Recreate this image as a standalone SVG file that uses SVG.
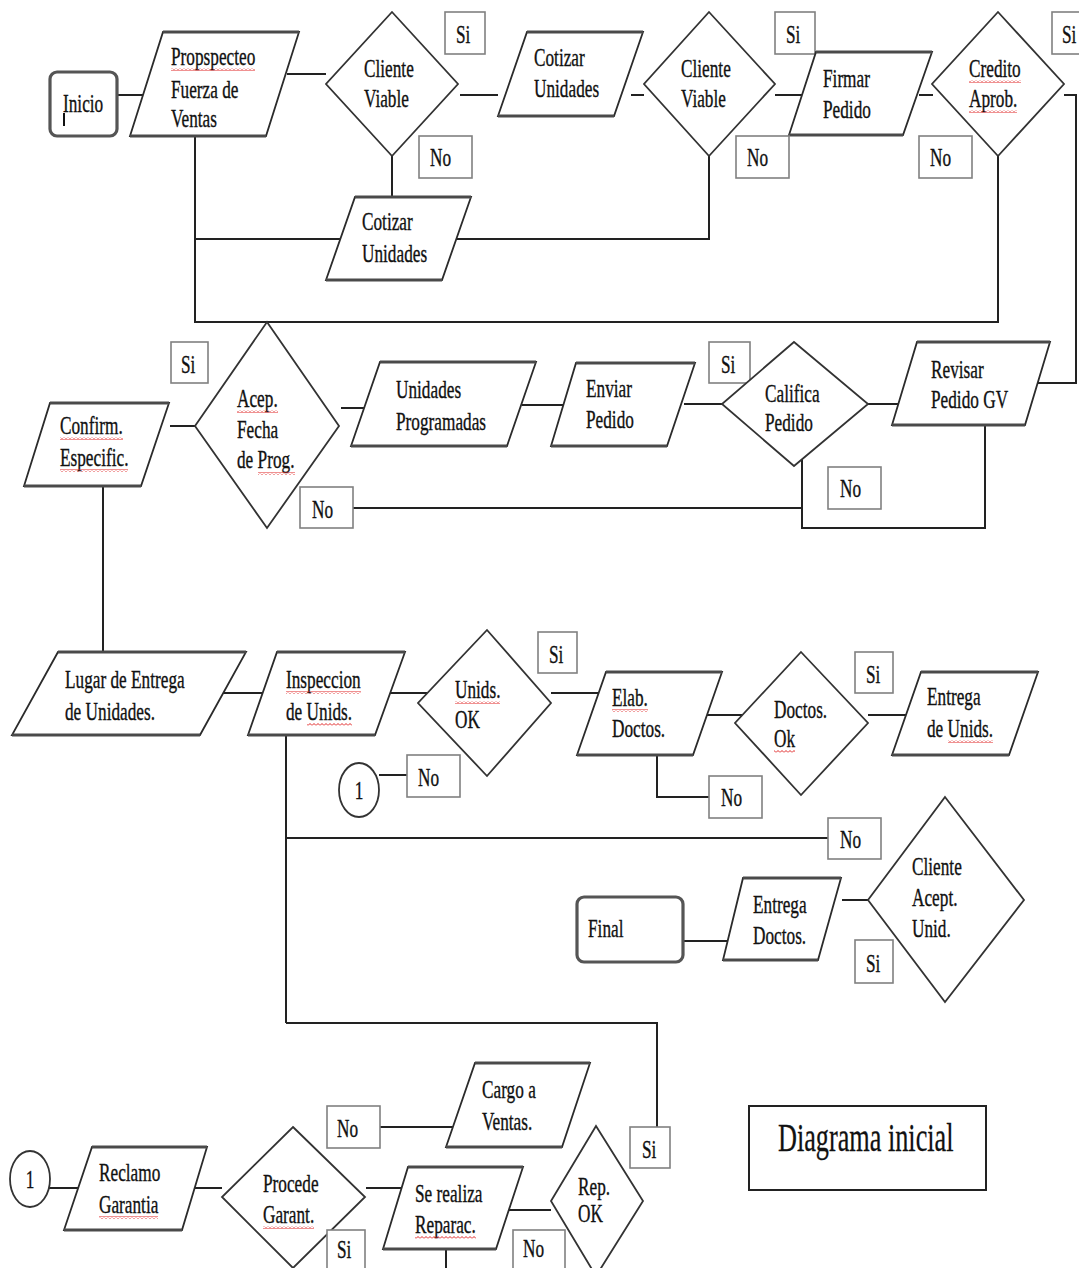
<svg xmlns="http://www.w3.org/2000/svg" width="1079" height="1268" viewBox="0 0 1079 1268">
<defs>
<pattern id="wavy" width="4" height="3" patternUnits="userSpaceOnUse"><path d="M0 2.5 L2 0.5 L4 2.5" fill="none" stroke="#e02424" stroke-width="1"/></pattern>
<style>
.t{font-family:"Liberation Serif","Times New Roman",serif;font-size:25px;fill:#111;stroke:#111;stroke-width:0.35}
.title{font-family:"Liberation Serif","Times New Roman",serif;font-size:41px;fill:#111;stroke:#111;stroke-width:0.3}
.para{fill:#fff;stroke:#2b2b2b;stroke-width:1.8}
.pe{fill:none;stroke:#4a4a4a;stroke-width:3.2}
.dia{fill:#fff;stroke:#333;stroke-width:1.8}
.lab{fill:#fff;stroke:#808080;stroke-width:1.6}
.term{fill:#fff;stroke:#555;stroke-width:3.2}
.circ{fill:#fff;stroke:#333;stroke-width:1.8}
.c{fill:none;stroke:#222;stroke-width:2}
.w{fill:url(#wavy)}
</style>
</defs>
<rect width="1079" height="1268" fill="#fff"/>

<g id="connectors">
<line class="c" x1="117" y1="95" x2="143" y2="95"/>
<line class="c" x1="287" y1="74" x2="326" y2="74"/>
<line class="c" x1="460" y1="95" x2="498" y2="95"/>
<line class="c" x1="631" y1="95" x2="644" y2="95"/>
<line class="c" x1="775" y1="95" x2="803" y2="95"/>
<line class="c" x1="919" y1="95" x2="933" y2="95"/>
<polyline class="c" points="1064,95 1076,95 1076,383 1038,383"/>
<line class="c" x1="392" y1="156" x2="392" y2="197"/>
<polyline class="c" points="195,136 195,322 998,322 998,156"/>
<line class="c" x1="195" y1="239" x2="341" y2="239"/>
<polyline class="c" points="456,239 709,239 709,156"/>
<line class="c" x1="170" y1="426" x2="195" y2="426"/>
<line class="c" x1="341" y1="408" x2="364" y2="408"/>
<line class="c" x1="522" y1="405" x2="564" y2="405"/>
<line class="c" x1="684" y1="404" x2="722" y2="404"/>
<line class="c" x1="868" y1="404" x2="898" y2="404"/>
<polyline class="c" points="985,425 985,528 802,528 802,458"/>
<line class="c" x1="353" y1="508" x2="802" y2="508"/>
<line class="c" x1="103" y1="486" x2="103" y2="652"/>
<line class="c" x1="223" y1="693" x2="263" y2="693"/>
<line class="c" x1="390" y1="693" x2="428" y2="693"/>
<line class="c" x1="551" y1="693" x2="600" y2="693"/>
<line class="c" x1="707" y1="715" x2="742" y2="715"/>
<line class="c" x1="868" y1="715" x2="906" y2="715"/>
<polyline class="c" points="657,755 657,797 709,797"/>
<line class="c" x1="379" y1="775" x2="407" y2="775"/>
<line class="c" x1="286" y1="735" x2="286" y2="1023"/>
<line class="c" x1="286" y1="838" x2="828" y2="838"/>
<polyline class="c" points="286,1023 657,1023 657,1127"/>
<line class="c" x1="842" y1="900" x2="868" y2="900"/>
<line class="c" x1="683" y1="941" x2="727" y2="941"/>
<line class="c" x1="49" y1="1188" x2="78" y2="1188"/>
<line class="c" x1="194" y1="1188" x2="222" y2="1188"/>
<line class="c" x1="366" y1="1188" x2="402" y2="1188"/>
<line class="c" x1="380" y1="1127" x2="453" y2="1127"/>
<line class="c" x1="509" y1="1210" x2="551" y2="1210"/>
<line class="c" x1="446" y1="1249" x2="446" y2="1268"/>
</g>

<g id="inicio">
<rect class="term" x="50" y="72" width="67" height="64" rx="7"/>
<text class="t" transform="matrix(.69 0 0 1 63 0)"><tspan x="0" y="112">Inicio</tspan></text>
<line x1="64" y1="113" x2="64" y2="126" stroke="#111" stroke-width="2"/>
</g>

<g id="propspecteo">
<polygon class="para" points="163,32 299,32 266,136 130,136"/>
<path class="pe" d="M163 32H299M130 136H266"/>
<text class="t" transform="matrix(.69 0 0 1 171 0)"><tspan x="0" y="65">Propspecteo</tspan><tspan x="0" y="98">Fuerza de</tspan><tspan x="0" y="127">Ventas</tspan></text>
<rect class="w" x="171" y="68" width="84" height="3"/>
</g>

<g id="cliente-viable-1">
<polygon class="dia" points="392,12 458,84 392,156 326,84"/>
<text class="t" transform="matrix(.69 0 0 1 364 0)"><tspan x="0" y="77">Cliente</tspan><tspan x="0" y="107">Viable</tspan></text>
</g>
<g id="si-1"><rect class="lab" x="445" y="12" width="40" height="42"/><text class="t" transform="matrix(.69 0 0 1 456 0)"><tspan x="0" y="43">Si</tspan></text></g>
<g id="no-1"><rect class="lab" x="419" y="136" width="53" height="42"/><text class="t" transform="matrix(.69 0 0 1 430 0)"><tspan x="0" y="166">No</tspan></text></g>

<g id="cotizar-1">
<polygon class="para" points="527,32 643,32 614,116 498,116"/>
<path class="pe" d="M527 32H643M498 116H614"/>
<text class="t" transform="matrix(.69 0 0 1 534 0)"><tspan x="0" y="66">Cotizar</tspan><tspan x="0" y="97">Unidades</tspan></text>
</g>

<g id="cotizar-2">
<polygon class="para" points="355,197 471,197 442,280 326,280"/>
<path class="pe" d="M355 197H471M326 280H442"/>
<text class="t" transform="matrix(.69 0 0 1 362 0)"><tspan x="0" y="230">Cotizar</tspan><tspan x="0" y="262">Unidades</tspan></text>
</g>

<g id="cliente-viable-2">
<polygon class="dia" points="709,12 775,84 709,156 644,84"/>
<text class="t" transform="matrix(.69 0 0 1 681 0)"><tspan x="0" y="77">Cliente</tspan><tspan x="0" y="107">Viable</tspan></text>
</g>
<g id="si-2"><rect class="lab" x="775" y="12" width="40" height="42"/><text class="t" transform="matrix(.69 0 0 1 786 0)"><tspan x="0" y="43">Si</tspan></text></g>

<g id="firmar">
<polygon class="para" points="816,52 932,52 903,135 789,135"/>
<path class="pe" d="M816 52H932M789 135H903"/>
<text class="t" transform="matrix(.69 0 0 1 823 0)"><tspan x="0" y="87">Firmar</tspan><tspan x="0" y="118">Pedido</tspan></text>
</g>
<g id="no-2"><rect class="lab" x="736" y="136" width="53" height="42"/><text class="t" transform="matrix(.69 0 0 1 747 0)"><tspan x="0" y="166">No</tspan></text></g>

<g id="credito">
<polygon class="dia" points="998,12 1064,84 998,156 932,84"/>
<text class="t" transform="matrix(.69 0 0 1 969 0)"><tspan x="0" y="77">Credito</tspan><tspan x="0" y="107">Aprob.</tspan></text>
<rect class="w" x="969" y="80" width="52" height="3"/>
<rect class="w" x="969" y="110" width="48" height="3"/>
</g>
<g id="no-3"><rect class="lab" x="919" y="136" width="53" height="42"/><text class="t" transform="matrix(.69 0 0 1 930 0)"><tspan x="0" y="166">No</tspan></text></g>
<g id="si-3"><rect class="lab" x="1052" y="12" width="40" height="42"/><text class="t" transform="matrix(.69 0 0 1 1062 0)"><tspan x="0" y="43">Si</tspan></text></g>

<g id="acep">
<polygon class="dia" points="267,322 339,426 267,528 195,426"/>
<text class="t" transform="matrix(.69 0 0 1 237 0)"><tspan x="0" y="407">Acep.</tspan><tspan x="0" y="438">Fecha</tspan><tspan x="0" y="468">de Prog.</tspan></text>
<rect class="w" x="237" y="410" width="41" height="3"/>
<rect class="w" x="258" y="472" width="37" height="3"/>
</g>
<g id="si-4"><rect class="lab" x="171" y="342" width="37" height="41"/><text class="t" transform="matrix(.69 0 0 1 181 0)"><tspan x="0" y="373">Si</tspan></text></g>

<g id="confirm">
<polygon class="para" points="50,403 169,403 141,486 24,486"/>
<path class="pe" d="M50 403H169M24 486H141"/>
<text class="t" transform="matrix(.69 0 0 1 60 0)"><tspan x="0" y="434">Confirm.</tspan><tspan x="0" y="466">Especific.</tspan></text>
<rect class="w" x="60" y="437" width="63" height="3"/>
<rect class="w" x="60" y="469" width="68" height="3"/>
</g>

<g id="unidades-programadas">
<polygon class="para" points="380,362 536,362 507,446 351,446"/>
<path class="pe" d="M380 362H536M351 446H507"/>
<text class="t" transform="matrix(.69 0 0 1 396 0)"><tspan x="0" y="398">Unidades</tspan><tspan x="0" y="430">Programadas</tspan></text>
</g>

<g id="enviar">
<polygon class="para" points="576,363 695,363 667,446 551,446"/>
<path class="pe" d="M576 363H695M551 446H667"/>
<text class="t" transform="matrix(.69 0 0 1 586 0)"><tspan x="0" y="397">Enviar</tspan><tspan x="0" y="428">Pedido</tspan></text>
</g>
<g id="si-5"><rect class="lab" x="709" y="342" width="41" height="41"/><text class="t" transform="matrix(.69 0 0 1 721 0)"><tspan x="0" y="373">Si</tspan></text></g>

<g id="califica">
<polygon class="dia" points="794,342 868,404 794,466 722,404"/>
<text class="t" transform="matrix(.69 0 0 1 765 0)"><tspan x="0" y="402">Califica</tspan><tspan x="0" y="431">Pedido</tspan></text>
</g>

<g id="revisar">
<polygon class="para" points="917,342 1050,342 1025,425 892,425"/>
<path class="pe" d="M917 342H1050M892 425H1025"/>
<text class="t" transform="matrix(.69 0 0 1 931 0)"><tspan x="0" y="378">Revisar</tspan><tspan x="0" y="408">Pedido GV</tspan></text>
</g>
<g id="no-4"><rect class="lab" x="828" y="467" width="53" height="42"/><text class="t" transform="matrix(.69 0 0 1 840 0)"><tspan x="0" y="497">No</tspan></text></g>
<g id="no-5"><rect class="lab" x="300" y="487" width="53" height="41"/><text class="t" transform="matrix(.69 0 0 1 312 0)"><tspan x="0" y="518">No</tspan></text></g>

<g id="lugar">
<polygon class="para" points="58,652 246,652 200,735 12,735"/>
<path class="pe" d="M58 652H246M12 735H200"/>
<text class="t" transform="matrix(.69 0 0 1 65 0)"><tspan x="0" y="688">Lugar de Entrega</tspan><tspan x="0" y="720">de Unidades.</tspan></text>
</g>

<g id="inspeccion">
<polygon class="para" points="277,652 405,652 375,735 248,735"/>
<path class="pe" d="M277 652H405M248 735H375"/>
<text class="t" transform="matrix(.69 0 0 1 286 0)"><tspan x="0" y="688">Inspeccion</tspan><tspan x="0" y="720">de Unids.</tspan></text>
<rect class="w" x="286" y="691" width="75" height="3"/>
<rect class="w" x="307" y="723" width="45" height="3"/>
</g>

<g id="unids-ok">
<polygon class="dia" points="487,630 551,703 487,776 418,703"/>
<text class="t" transform="matrix(.69 0 0 1 455 0)"><tspan x="0" y="698">Unids.</tspan><tspan x="0" y="728">OK</tspan></text>
<rect class="w" x="455" y="701" width="45" height="3"/>
</g>
<g id="si-6"><rect class="lab" x="538" y="632" width="39" height="41"/><text class="t" transform="matrix(.69 0 0 1 549 0)"><tspan x="0" y="663">Si</tspan></text></g>

<g id="conector-1a">
<ellipse class="circ" cx="359" cy="790" rx="20" ry="27"/>
<text class="t" text-anchor="middle" transform="matrix(.69 0 0 1 359 0)"><tspan x="0" y="799">1</tspan></text>
</g>
<g id="no-6"><rect class="lab" x="407" y="755" width="53" height="42"/><text class="t" transform="matrix(.69 0 0 1 418 0)"><tspan x="0" y="786">No</tspan></text></g>

<g id="elab">
<polygon class="para" points="606,672 722,672 693,755 577,755"/>
<path class="pe" d="M606 672H722M577 755H693"/>
<text class="t" transform="matrix(.69 0 0 1 612 0)"><tspan x="0" y="706">Elab.</tspan><tspan x="0" y="737">Doctos.</tspan></text>
<rect class="w" x="612" y="709" width="36" height="3"/>
</g>
<g id="no-7"><rect class="lab" x="709" y="776" width="53" height="42"/><text class="t" transform="matrix(.69 0 0 1 721 0)"><tspan x="0" y="806">No</tspan></text></g>

<g id="doctos-ok">
<polygon class="dia" points="801,652 868,723 801,795 735,723"/>
<text class="t" transform="matrix(.69 0 0 1 774 0)"><tspan x="0" y="718">Doctos.</tspan><tspan x="0" y="747">Ok</tspan></text>
<rect class="w" x="774" y="750" width="21" height="3"/>
</g>
<g id="si-7"><rect class="lab" x="855" y="652" width="38" height="41"/><text class="t" transform="matrix(.69 0 0 1 866 0)"><tspan x="0" y="683">Si</tspan></text></g>

<g id="entrega-unids">
<polygon class="para" points="921,672 1038,672 1009,755 892,755"/>
<path class="pe" d="M921 672H1038M892 755H1009"/>
<text class="t" transform="matrix(.69 0 0 1 927 0)"><tspan x="0" y="705">Entrega</tspan><tspan x="0" y="737">de Unids.</tspan></text>
<rect class="w" x="948" y="740" width="45" height="3"/>
</g>

<g id="no-8"><rect class="lab" x="828" y="818" width="53" height="41"/><text class="t" transform="matrix(.69 0 0 1 840 0)"><tspan x="0" y="848">No</tspan></text></g>

<g id="cliente-acept">
<polygon class="dia" points="945,797 1024,900 945,1002 868,900"/>
<text class="t" transform="matrix(.69 0 0 1 912 0)"><tspan x="0" y="875">Cliente</tspan><tspan x="0" y="906">Acept.</tspan><tspan x="0" y="937">Unid.</tspan></text>
</g>

<g id="entrega-doctos">
<polygon class="para" points="743,878 841,878 818,960 723,960"/>
<path class="pe" d="M743 878H841M723 960H818"/>
<text class="t" transform="matrix(.69 0 0 1 753 0)"><tspan x="0" y="913">Entrega</tspan><tspan x="0" y="944">Doctos.</tspan></text>
</g>
<g id="si-8"><rect class="lab" x="855" y="940" width="38" height="43"/><text class="t" transform="matrix(.69 0 0 1 866 0)"><tspan x="0" y="972">Si</tspan></text></g>

<g id="final">
<rect class="term" x="577" y="897" width="106" height="65" rx="7"/>
<text class="t" transform="matrix(.69 0 0 1 588 0)"><tspan x="0" y="937">Final</tspan></text>
</g>

<g id="conector-1b">
<ellipse class="circ" cx="30" cy="1179" rx="20" ry="28"/>
<text class="t" text-anchor="middle" transform="matrix(.69 0 0 1 30 0)"><tspan x="0" y="1188">1</tspan></text>
</g>

<g id="reclamo">
<polygon class="para" points="92,1147 207,1147 182,1230 64,1230"/>
<path class="pe" d="M92 1147H207M64 1230H182"/>
<text class="t" transform="matrix(.69 0 0 1 99 0)"><tspan x="0" y="1181">Reclamo</tspan><tspan x="0" y="1213">Garantia</tspan></text>
<rect class="w" x="99" y="1216" width="59" height="3"/>
</g>

<g id="procede">
<polygon class="dia" points="293,1127 365,1197 293,1268 222,1197"/>
<text class="t" transform="matrix(.69 0 0 1 263 0)"><tspan x="0" y="1192">Procede</tspan><tspan x="0" y="1223">Garant.</tspan></text>
<rect class="w" x="263" y="1226" width="51" height="3"/>
</g>
<g id="no-9"><rect class="lab" x="327" y="1106" width="53" height="42"/><text class="t" transform="matrix(.69 0 0 1 337 0)"><tspan x="0" y="1137">No</tspan></text></g>
<g id="si-9"><rect class="lab" x="327" y="1230" width="38" height="42"/><text class="t" transform="matrix(.69 0 0 1 337 0)"><tspan x="0" y="1258">Si</tspan></text></g>

<g id="cargo">
<polygon class="para" points="475,1063 590,1063 562,1147 446,1147"/>
<path class="pe" d="M475 1063H590M446 1147H562"/>
<text class="t" transform="matrix(.69 0 0 1 482 0)"><tspan x="0" y="1098">Cargo a</tspan><tspan x="0" y="1130">Ventas.</tspan></text>
</g>

<g id="se-realiza">
<polygon class="para" points="408,1167 523,1167 496,1249 383,1249"/>
<path class="pe" d="M408 1167H523M383 1249H496"/>
<text class="t" transform="matrix(.69 0 0 1 415 0)"><tspan x="0" y="1202">Se realiza</tspan><tspan x="0" y="1233">Reparac.</tspan></text>
<rect class="w" x="415" y="1236" width="61" height="3"/>
</g>

<g id="rep-ok">
<polygon class="dia" points="596,1126 643,1201 596,1276 551,1201"/>
<text class="t" transform="matrix(.69 0 0 1 578 0)"><tspan x="0" y="1195">Rep.</tspan><tspan x="0" y="1222">OK</tspan></text>
</g>
<g id="no-10"><rect class="lab" x="513" y="1230" width="52" height="42"/><text class="t" transform="matrix(.69 0 0 1 523 0)"><tspan x="0" y="1257">No</tspan></text></g>
<g id="si-10"><rect class="lab" x="630" y="1127" width="40" height="41"/><text class="t" transform="matrix(.69 0 0 1 642 0)"><tspan x="0" y="1158">Si</tspan></text></g>

<g id="diagrama-inicial">
<rect x="749" y="1106" width="237" height="84" fill="#fff" stroke="#222" stroke-width="2"/>
<text class="title" transform="matrix(.64 0 0 1 778 0)"><tspan x="0" y="1151">Diagrama inicial</tspan></text>
</g>
</svg>
